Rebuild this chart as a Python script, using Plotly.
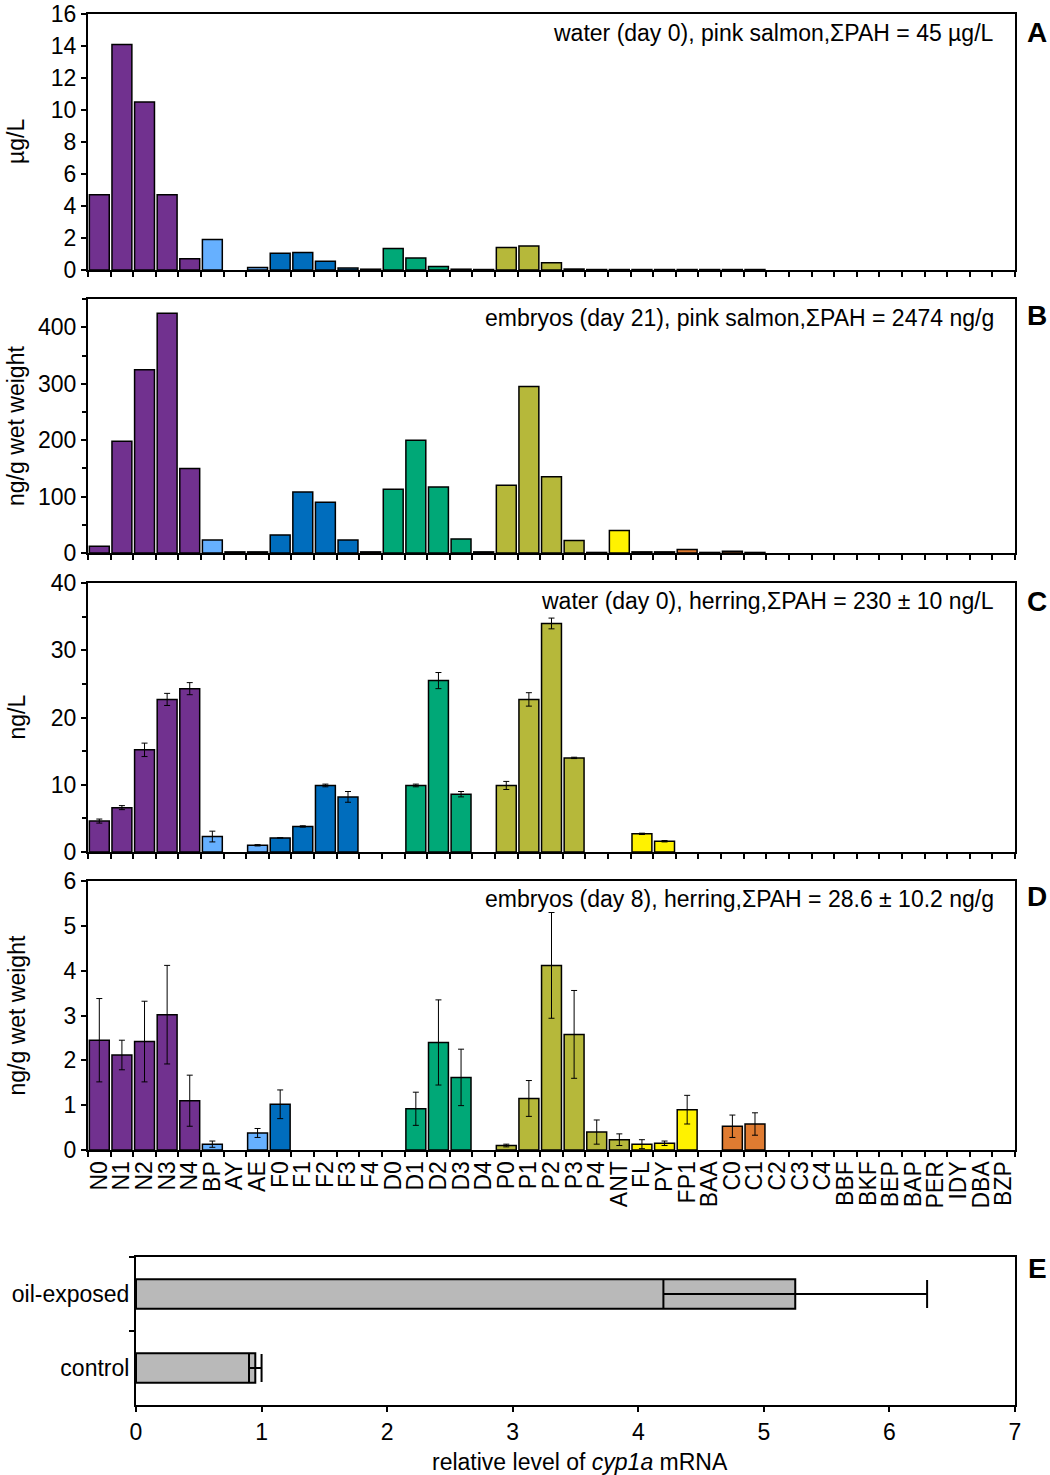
import plotly.graph_objects as go
from plotly.subplots import make_subplots

# categorias de PAH (eixo x dos paineis A-D)
categorias = ['N0', 'N1', 'N2', 'N3', 'N4', 'BP', 'AY', 'AE', 'F0', 'F1', 'F2', 'F3', 'F4',
              'D0', 'D1', 'D2', 'D3', 'D4', 'P0', 'P1', 'P2', 'P3', 'P4', 'ANT', 'FL', 'PY',
              'FP1', 'BAA', 'C0', 'C1', 'C2', 'C3', 'C4', 'BBF', 'BKF', 'BEP', 'BAP', 'PER',
              'IDY', 'DBA', 'BZP']

# A: agua (dia 0), salmao rosa, ug/L
agua_salmao = [4.7, 14.1, 10.5, 4.7, 0.7, 1.9, None, 0.15, 1.05, 1.1, 0.55, 0.12, 0.05,
               1.35, 0.75, 0.22, 0.05, 0.03, 1.4, 1.5, 0.45, 0.06, 0.03, 0.03, 0.03, 0.03,
               0.03, 0.03, 0.03, 0.03, None, None, None, None, None, None, None, None,
               None, None, None]

# B: embrioes (dia 21), salmao rosa, ng/g
embriao_salmao = [12, 198, 325, 425, 150, 23, 2, 2, 32, 108, 90, 23, 2,
                  113, 200, 117, 25, 2, 120, 295, 135, 22, 1, 40, 2, 2,
                  6, 1, 3, 1, None, None, None, None, None, None, None, None,
                  None, None, None]

# C: agua (dia 0), arenque, ng/L
agua_arenque = [4.6, 6.6, 15.2, 22.7, 24.3, 2.3, None, 1.0, 2.1, 3.8, 9.9, 8.2, None,
                None, 9.9, 25.5, 8.6, None, 9.9, 22.7, 34.0, 14.0, None, None, 2.7, 1.6,
                None, None, None, None, None, None, None, None, None, None, None, None,
                None, None, None]
erro_agua_arenque = [0.3, 0.3, 1.0, 0.9, 0.9, 0.8, 0, 0.1, 0, 0.1, 0.2, 0.8, 0,
                     0, 0.2, 1.2, 0.4, 0, 0.6, 1.0, 0.8, 0.1, 0, 0, 0.1, 0.1,
                     0, 0, 0, 0, 0, 0, 0, 0, 0, 0, 0, 0, 0, 0, 0]

# D: embrioes (dia 8), arenque, ng/g
embriao_arenque = [2.45, 2.12, 2.42, 3.02, 1.1, 0.13, None, 0.38, 1.02, None, None, None, None,
                   None, 0.92, 2.4, 1.62, None, 0.1, 1.15, 4.12, 2.58, 0.4, 0.23, 0.13, 0.15,
                   0.9, None, 0.53, 0.58, None, None, None, None, None, None, None, None,
                   None, None, None]
erro_embriao_arenque = [0.93, 0.33, 0.9, 1.1, 0.57, 0.07, 0, 0.1, 0.32, 0, 0, 0, 0,
                        0, 0.37, 0.95, 0.63, 0, 0.03, 0.4, 1.18, 0.98, 0.27, 0.13, 0.1, 0.05,
                        0.32, 0, 0.25, 0.25, 0, 0, 0, 0, 0, 0, 0, 0, 0, 0, 0]

# E: nivel relativo de mRNA cyp1a
grupos = ['control', 'oil-exposed']
cyp1a = [0.95, 5.25]
erro_cyp1a = [0.05, 1.05]

roxo, azul_claro, azul, verde = '#71318f', '#66b0ff', '#006dbd', '#00a877'
oliva, amarelo, laranja = '#b6b83a', '#fff200', '#df7b31'
cores = ([roxo] * 5 + [azul_claro] * 3 + [azul] * 5 + [verde] * 5 + [oliva] * 6
         + [amarelo] * 3 + [laranja] * 14)
cores_b = cores[:23] + [amarelo, amarelo, amarelo, laranja] + cores[27:]

fonte = 'Liberation Sans'
fig = make_subplots(rows=5, cols=1)

paineis = [
    (agua_salmao, None, cores),
    (embriao_salmao, None, cores_b),
    (agua_arenque, erro_agua_arenque, cores),
    (embriao_arenque, erro_embriao_arenque, cores),
]
for i, (valores, erros, cor) in enumerate(paineis):
    barra = go.Bar(x=categorias, y=valores, marker_color=cor,
                   marker_line=dict(color='black', width=1.5), showlegend=False)
    if erros is not None:
        barra.error_y = dict(type='data', array=erros, color='black', thickness=1, width=3)
    fig.add_trace(barra, row=i + 1, col=1)

fig.add_trace(go.Bar(y=grupos, x=cyp1a, orientation='h', marker_color='#b9b9b9',
                     marker_line=dict(color='black', width=2), width=0.4, showlegend=False,
                     error_x=dict(type='data', array=erro_cyp1a, color='black',
                                  thickness=2, width=14)), row=5, col=1)

W = 1050.0
H = 1475.0


def px(v):
    return v / W


def py(v):
    return 1 - v / H


dominios = [(14, 270), (299, 553), (583, 852), (881, 1150), (1257, 1405)]
eixo_comum = dict(showline=True, linecolor='black', linewidth=2, mirror=True,
                  ticks='outside', ticklen=5, tickwidth=1.5, tickcolor='black',
                  showgrid=False, zeroline=False,
                  tickfont=dict(family=fonte, size=23, color='black'))

faixas_y = [(0, 16, 2), (0, 450, 100), (0, 40, 10), (0, 6, 1)]
for i in range(4):
    topo, base = dominios[i]
    fig.update_xaxes(eixo_comum, row=i + 1, col=1, domain=[px(88), px(1015)],
                     type='category', categoryorder='array', categoryarray=categorias,
                     tickson='boundaries', showticklabels=(i == 3), tickangle=-90,
                     tickmode='linear', tick0=0, dtick=1,
                     range=[-0.5, len(categorias) - 0.5])
    y0, y1, passo = faixas_y[i]
    fig.update_yaxes(eixo_comum, row=i + 1, col=1, domain=[py(base), py(topo)],
                     range=[y0, y1 * 1.0005], dtick=passo,
                     minor=dict(ticks='outside', ticklen=4, dtick=passo / 2, tickcolor='black')
                     if i in (1, 2) else None)

fig.update_xaxes(eixo_comum, row=5, col=1, domain=[px(136), px(1015)], range=[0, 7], dtick=1)
fig.update_yaxes(eixo_comum, row=5, col=1, domain=[py(1405), py(1257)],
                 tickson='boundaries', range=[-0.5, 1.5])

titulos = ['water (day 0), pink salmon,ΣPAH = 45 µg/L',
           'embryos (day 21), pink salmon,ΣPAH = 2474 ng/g',
           'water (day 0), herring,ΣPAH = 230 ± 10 ng/L',
           'embryos (day 8), herring,ΣPAH = 28.6 ± 10.2 ng/g']
titulos_y = [33, 318, 601, 899]
rotulos_y = ['µg/L', 'ng/g wet weight', 'ng/L', 'ng/g wet weight']
letras = ['A', 'B', 'C', 'D', 'E']
letras_y = [33, 316, 601, 896, 1268]

anotacoes = []
for i in range(4):
    anotacoes.append(dict(text=titulos[i], x=px(996), y=py(titulos_y[i]), xref='paper',
                          yref='paper', xanchor='right', yanchor='middle', showarrow=False,
                          font=dict(family=fonte, size=23, color='black')))
    topo, base = dominios[i]
    anotacoes.append(dict(text=rotulos_y[i], x=px(16), y=py((topo + base) / 2),
                          xref='paper', yref='paper', textangle=-90, showarrow=False,
                          xanchor='center', yanchor='middle',
                          font=dict(family=fonte, size=23, color='black')))
for letra, ly in zip(letras, letras_y):
    anotacoes.append(dict(text='<b>' + letra + '</b>', x=px(1037), y=py(ly),
                          xref='paper', yref='paper', showarrow=False,
                          xanchor='center', yanchor='middle',
                          font=dict(family=fonte, size=28, color='black')))
anotacoes.append(dict(text='relative level of <i>cyp1a</i> mRNA', x=px(580),
                      y=py(1462), xref='paper', yref='paper', showarrow=False,
                      xanchor='center', yanchor='middle',
                      font=dict(family=fonte, size=23, color='black')))

fig.update_layout(
    width=W, height=H,
    margin=dict(l=0, r=0, t=0, b=0),
    template='none',
    paper_bgcolor='white', plot_bgcolor='white',
    bargap=0.12,
    annotations=anotacoes,
    font=dict(family=fonte, size=23, color='black'),
)
# tira a margem padrao do body para a figura ocupar a janela inteira
fig.write_html('out.html', config={'displayModeBar': False},
               post_script="document.body.style.margin='0';")
